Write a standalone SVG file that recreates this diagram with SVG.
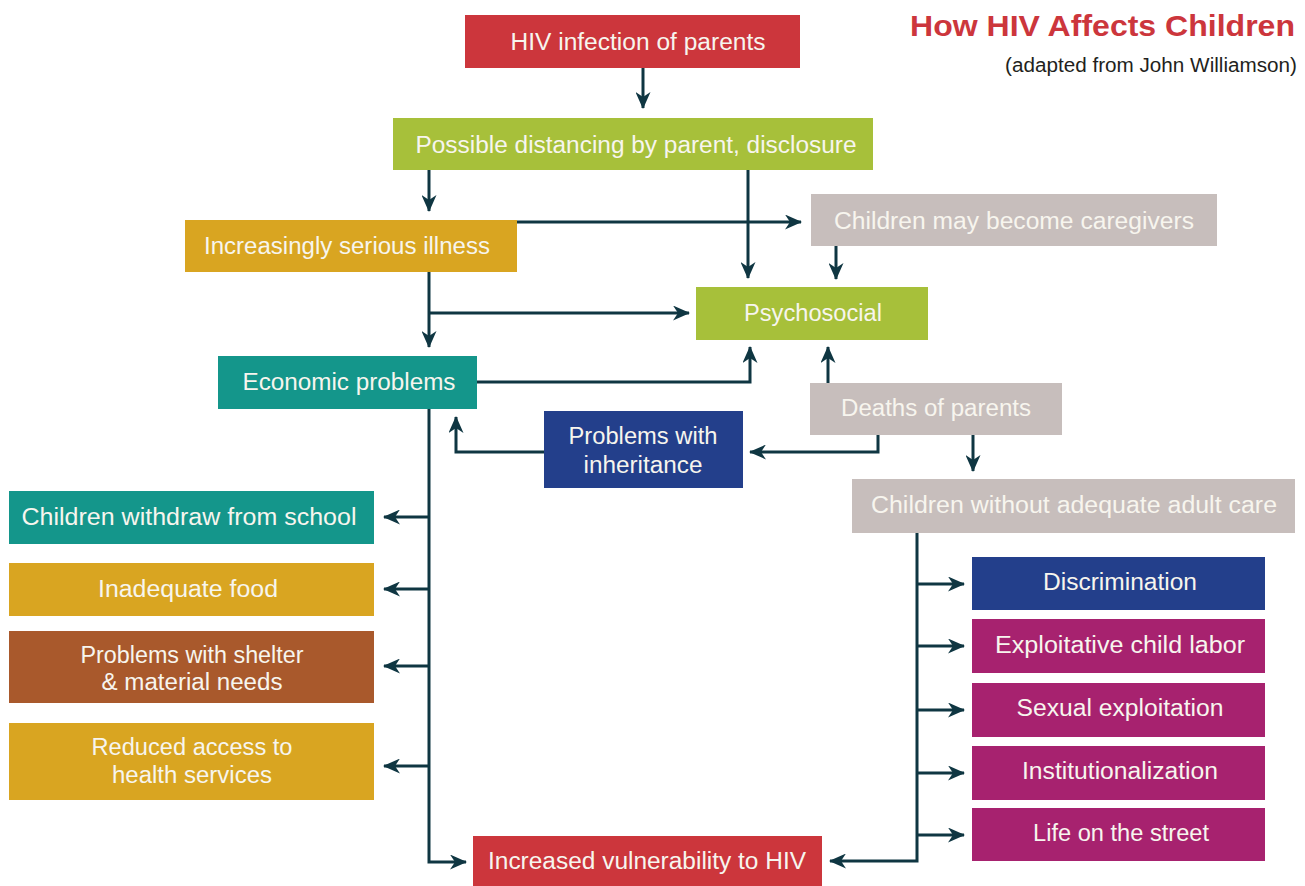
<svg xmlns="http://www.w3.org/2000/svg" width="1305" height="886" viewBox="0 0 1305 886">
<defs>
<marker id="ah" viewBox="0 0 17 15" refX="16" refY="7.5" markerWidth="17" markerHeight="15" markerUnits="userSpaceOnUse" orient="auto">
<path d="M0,0 L17,7.5 L0,15 L5,7.5 Z" fill="#0f3642"/>
</marker>
<style>
.t{font-family:"Liberation Sans",Arial,sans-serif;font-size:23px;fill:#f7f5ee;text-anchor:middle}
.c{fill:none;stroke:#0f3642;stroke-width:3}
.a{marker-end:url(#ah)}
.red{fill:#cc363c}.grn{fill:#a7c03a}.gld{fill:#d9a521}.gry{fill:#c7bebc}.tel{fill:#14968b}.blu{fill:#233f8b}.brn{fill:#a9592c}.mag{fill:#a7226f}
</style>
</defs>
<rect width="1305" height="886" fill="#ffffff"/>
<text x="1295" y="36" font-family="Liberation Sans,Arial,sans-serif" font-size="30" font-weight="bold" fill="#cc363c" text-anchor="end" textLength="385" lengthAdjust="spacingAndGlyphs">How HIV Affects Children</text>
<text x="1297" y="72" font-family="Liberation Sans,Arial,sans-serif" font-size="20" fill="#231f20" text-anchor="end" textLength="292" lengthAdjust="spacingAndGlyphs">(adapted from John Williamson)</text>

<g id="connectors">
<path class="c a" d="M643,68 V108"/>
<path class="c a" d="M429,170 V211"/>
<path class="c a" d="M748,170 V278"/>
<path class="c a" d="M517,222 H801"/>
<path class="c a" d="M836,246 V279"/>
<path class="c a" d="M429,272 V347"/>
<path class="c a" d="M429,313 H689"/>
<path class="c a" d="M477,382 H750 V347"/>
<path class="c a" d="M828,383 V347"/>
<path class="c a" d="M878,435 V452 H750"/>
<path class="c a" d="M544,452 H456 V417"/>
<path class="c a" d="M973,435 V471"/>
<path class="c a" d="M429,409 V862 H466"/>
<path class="c a" d="M429,517 H384"/>
<path class="c a" d="M429,589 H384"/>
<path class="c a" d="M429,666 H384"/>
<path class="c a" d="M429,766 H384"/>
<path class="c a" d="M917,533 V861 H830"/>
<path class="c a" d="M917,584 H964"/>
<path class="c a" d="M917,646 H964"/>
<path class="c a" d="M917,710 H964"/>
<path class="c a" d="M917,773 H964"/>
<path class="c a" d="M917,835 H964"/>
</g>

<g id="hiv-infection"><rect class="red" x="465" y="15" width="335" height="53"/><text class="t" x="638" y="50" textLength="255" lengthAdjust="spacingAndGlyphs">HIV infection of parents</text></g>
<g id="distancing"><rect class="grn" x="393" y="118" width="480" height="52"/><text class="t" x="636" y="153" textLength="441" lengthAdjust="spacingAndGlyphs">Possible distancing by parent, disclosure</text></g>
<g id="illness"><rect class="gld" x="185" y="220" width="332" height="52"/><text class="t" x="347" y="254" textLength="286" lengthAdjust="spacingAndGlyphs">Increasingly serious illness</text></g>
<g id="caregivers"><rect class="gry" x="811" y="194" width="406" height="52"/><text class="t" x="1014" y="229" textLength="360" lengthAdjust="spacingAndGlyphs">Children may become caregivers</text></g>
<g id="psychosocial"><rect class="grn" x="696" y="287" width="232" height="53"/><text class="t" x="813" y="321" textLength="138" lengthAdjust="spacingAndGlyphs">Psychosocial</text></g>
<g id="economic"><rect class="tel" x="218" y="356" width="259" height="53"/><text class="t" x="349" y="390" textLength="213" lengthAdjust="spacingAndGlyphs">Economic problems</text></g>
<g id="deaths"><rect class="gry" x="810" y="383" width="252" height="52"/><text class="t" x="936" y="416" textLength="190" lengthAdjust="spacingAndGlyphs">Deaths of parents</text></g>
<g id="inheritance"><rect class="blu" x="544" y="411" width="199" height="77"/><text class="t" x="643" y="444" textLength="149" lengthAdjust="spacingAndGlyphs">Problems with</text><text class="t" x="643" y="473" textLength="119" lengthAdjust="spacingAndGlyphs">inheritance</text></g>
<g id="without-care"><rect class="gry" x="852" y="479" width="443" height="54"/><text class="t" x="1074" y="513" textLength="406" lengthAdjust="spacingAndGlyphs">Children without adequate adult care</text></g>
<g id="withdraw"><rect class="tel" x="9" y="491" width="365" height="53"/><text class="t" x="189" y="525" textLength="335" lengthAdjust="spacingAndGlyphs">Children withdraw from school</text></g>
<g id="food"><rect class="gld" x="9" y="563" width="365" height="53"/><text class="t" x="188" y="597" textLength="180" lengthAdjust="spacingAndGlyphs">Inadequate food</text></g>
<g id="shelter"><rect class="brn" x="9" y="631" width="365" height="72"/><text class="t" x="192" y="663" textLength="223" lengthAdjust="spacingAndGlyphs">Problems with shelter</text><text class="t" x="192" y="690" textLength="181" lengthAdjust="spacingAndGlyphs">&amp; material needs</text></g>
<g id="health"><rect class="gld" x="9" y="723" width="365" height="77"/><text class="t" x="192" y="755" textLength="201" lengthAdjust="spacingAndGlyphs">Reduced access to</text><text class="t" x="192" y="783" textLength="160" lengthAdjust="spacingAndGlyphs">health services</text></g>
<g id="discrimination"><rect class="blu" x="972" y="557" width="293" height="53"/><text class="t" x="1120" y="590" textLength="154" lengthAdjust="spacingAndGlyphs">Discrimination</text></g>
<g id="labor"><rect class="mag" x="972" y="619" width="293" height="54"/><text class="t" x="1120" y="653" textLength="250" lengthAdjust="spacingAndGlyphs">Exploitative child labor</text></g>
<g id="sexual"><rect class="mag" x="972" y="683" width="293" height="54"/><text class="t" x="1120" y="716" textLength="207" lengthAdjust="spacingAndGlyphs">Sexual exploitation</text></g>
<g id="institution"><rect class="mag" x="972" y="746" width="293" height="54"/><text class="t" x="1120" y="779" textLength="196" lengthAdjust="spacingAndGlyphs">Institutionalization</text></g>
<g id="street"><rect class="mag" x="972" y="808" width="293" height="53"/><text class="t" x="1121" y="841" textLength="176" lengthAdjust="spacingAndGlyphs">Life on the street</text></g>
<g id="vulnerability"><rect class="red" x="473" y="836" width="349" height="50"/><text class="t" x="647" y="869" textLength="318" lengthAdjust="spacingAndGlyphs">Increased vulnerability to HIV</text></g>
</svg>
